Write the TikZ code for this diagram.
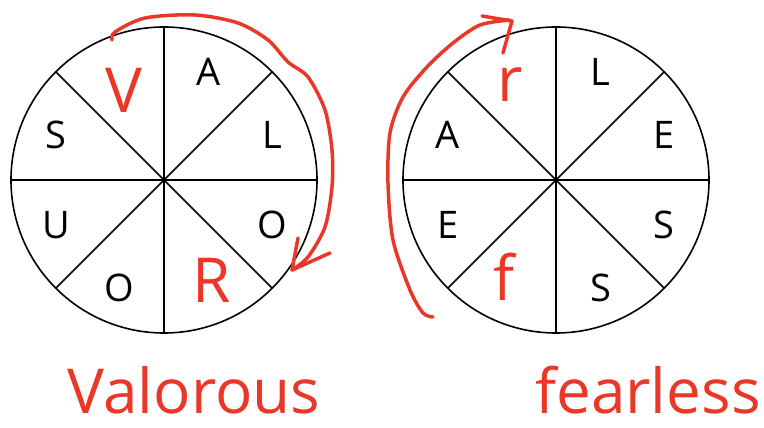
\documentclass[tikz,border=0pt]{standalone}
\usepackage{fontspec}
\setsansfont{Open Sans}
\newfontfamily\handfont{Open Sans}
\usetikzlibrary{positioning,calc}
\definecolor{penred}{RGB}{234,56,40}
\tikzset{
  wheel/.style={circle,draw,line width=1.6pt,minimum size=306pt,inner sep=0pt,outer sep=0pt},
  spoke/.style={line width=1.6pt},
  letter/.style={font=\sffamily\fontsize{38}{38}\selectfont,inner sep=0pt},
  hand/.style={text=penred,font=\handfont\fontsize{62}{62}\selectfont,inner sep=0pt},
  pen/.style={draw=penred,line width=3.5pt,line cap=round,line join=round},
}

\begin{document}
\begin{tikzpicture}[x=1pt,y=1pt]
  \useasboundingbox (0,0) rectangle (764,428);
  % the two wheels
  \node[wheel] (wheelV) at (164,248) {};
  \node[wheel] (wheelF) at (556,248) {};
  \foreach \w in {wheelV,wheelF} {
    \foreach \a/\b in {0/180,45/225,90/270,135/315}
      \draw[spoke] (\w.\a) -- (\w.\b);
  }
  % printed letters
  \foreach \l/\a [count=\i] in {A/67.5,L/22.5,O/-22.5,O/-112.5,U/-157.5,S/157.5}
    \node[letter] (v\i) at ($(wheelV)+(\a:117)$) {\l};
  \foreach \l/\a [count=\i] in {L/67.5,E/22.5,S/-22.5,S/-67.5,E/-157.5,A/157.5}
    \node[letter] (f\i) at ($(wheelF)+(\a:117)$) {\l};
  % handwritten letters
  \node[hand] (handV) at (124,338) {V};
  \node[hand] (handR) at (212,148) {R};
  \node[hand] (handr) at (510,343) {r};
  \node[hand] (handf) at (504,151) {f};
  \node[hand,anchor=base] (wordV) at (194,14) {Valorous};
  \node[hand,anchor=base] (wordF) at (648,14) {fearless};
  % reading direction
  \draw[pen] plot[smooth] coordinates {(112,388) (115,396) (145,410) (195,413) (238,405)
    (268,388) (288,366) (308,351) (325,318) (332,278) (332,241) (325,201) (308,171) (292,158)};
  \draw[pen] (298,190) -- (292,158) -- (330,175);
  \draw[pen] plot[smooth] coordinates {(433,111) (423,115) (410,138) (393,188) (388,245)
    (390,295) (403,331) (427,361) (453,385) (480,403) (510,408)};
  \draw[pen] (482,412) -- (512,407) -- (503,375);
\end{tikzpicture}
\end{document}
